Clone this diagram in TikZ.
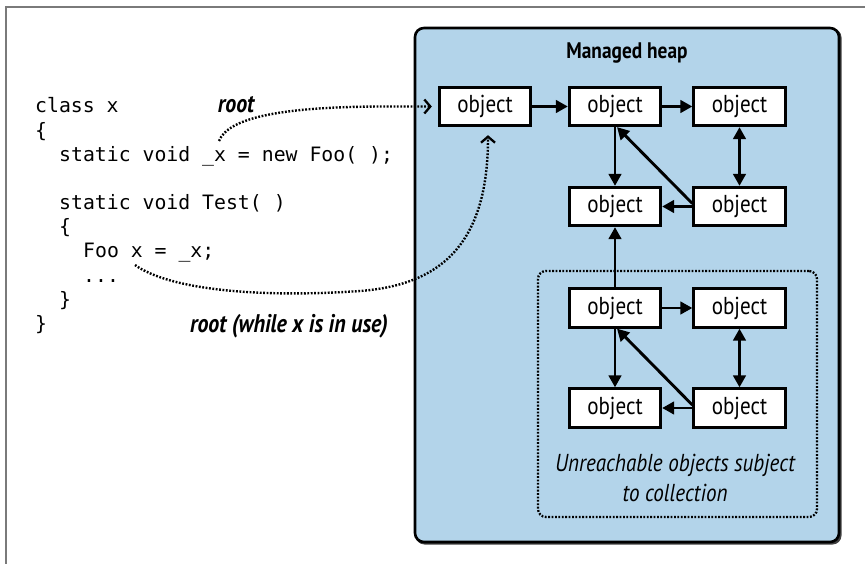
\documentclass[tikz,border=0pt]{standalone}
\usepackage{fontspec}
\setmainfont{PT Sans}[FakeStretch=0.86]
\setmonofont{DejaVu Sans Mono}
\usetikzlibrary{arrows.meta}
\definecolor{heapblue}{HTML}{B3D4EA}
\definecolor{framegray}{HTML}{7A7A7A}
\begin{document}
\begin{tikzpicture}[x=1pt,y=-1pt,
  obj/.style={draw=black, line width=2.8pt, fill=white, minimum width=91.5pt, minimum height=38.5pt, inner sep=0pt, font=\fontsize{24.5}{28}\selectfont},
  code/.style={anchor=base west, inner sep=0pt, font=\ttfamily\fontsize{19.8}{24}\selectfont},
  lbl/.style={anchor=base, inner sep=0pt, font=\bfseries\itshape\fontsize{25.5}{28}\selectfont},
  link/.style={line width=2.9pt, -{Triangle[length=12pt,width=12.5pt]}},
  dlink/.style={line width=2.9pt, {Triangle[length=12pt,width=12.5pt]}-{Triangle[length=12pt,width=12.5pt]}},
  rootlink/.style={line width=2.4pt, dash pattern=on 1.8pt off 1.6pt, -{Straight Barb[length=6pt,width=14pt,line width=2.3pt]}},
  heapbox/.style={draw=black, line width=2.6pt, fill=heapblue, rounded corners=9pt, minimum width=424pt, minimum height=514pt, inner sep=0pt},
  groupbox/.style={draw=black, line width=2.3pt, dash pattern=on 1.8pt off 1.6pt, rounded corners=8pt, minimum width=279pt, minimum height=246pt, inner sep=0pt},
]
\useasboundingbox (0,0) rectangle (865,564);
% partial frame
\draw[framegray, line width=2pt] (5.5,564) -- (5.5,7.5) -- (865,7.5);

% heap
\fill[black!75, rounded corners=9pt] (415.5,28.5) rectangle (841.5,544.5);
\node[heapbox] (heap) at (627,285) {};
\node[inner sep=0pt, font=\bfseries\fontsize{22.5}{26}\selectfont] (title) at (627,53) {Managed heap};
\node[groupbox] (group) at (677.5,394) {};
\node[inner sep=0pt, align=center, font=\itshape\fontsize{24.5}{30}\selectfont] (gtext) at (675,478) {Unreachable objects subject\\to collection};

% objects
\node[obj] (o1) at (485,106.5) {object};
\node[obj] (o2) at (615,106.5) {object};
\node[obj] (o3) at (739.5,106.5) {object};
\node[obj] (o4) at (615,206.5) {object};
\node[obj] (o5) at (739.5,206.5) {object};
\node[obj] (o6) at (615,308) {object};
\node[obj] (o7) at (739.5,308) {object};
\node[obj] (o8) at (615,408) {object};
\node[obj] (o9) at (739.5,408) {object};

% links
\draw[link] (o1.east) -- (o2.west);
\draw[link] (o2.east) -- (o3.west);
\draw[link] (o2.south) -- (o4.north);
\draw[dlink] (o3.south) -- (o5.north);
\draw[link] (o5.west) -- (o4.east);
\draw[link] ([yshift=3pt]o5.west) -- ([xshift=2pt]o2.south);
\draw[link] (o6.north) -- (o4.south);
\draw[link] (o6.east) -- (o7.west);
\draw[link] (o6.south) -- (o8.north);
\draw[dlink] (o7.south) -- (o9.north);
\draw[link] (o9.west) -- (o8.east);
\draw[link] ([yshift=3pt]o9.west) -- ([xshift=2pt]o6.south);

% code
\node[code] (c1) at (35,113) {class x};
\node[code] (c2) at (35,137.5) {\{};
\node[code] (c3) at (59,162) {static void \_x = new Foo( );};
\node[code] (c4) at (59,210) {static void Test( )};
\node[code] (c5) at (59,234) {\{};
\node[code] (c6) at (83,258) {Foo x = \_x;};
\node[code] (c7) at (83,282) {...};
\node[code] (c8) at (59,306) {\}};
\node[code] (c9) at (35,330) {\}};

\node[lbl] (rootA) at (236,113) {root};
\node[lbl] (rootB) at (289,332) {root (while x is in use)};

% root links
\coordinate (xs) at (219,141);
\coordinate (xf) at (135,265);
\coordinate (tipA) at ([xshift=-6pt]o1.west);
\coordinate (tipB) at ([xshift=3pt,yshift=-8pt]o1.south);
\draw[rootlink] (xs) .. controls (228,118) and (280,107) .. (380,106.5) -- (tipA);
\draw[rootlink] (xf) .. controls (170,290) and (260,298) .. (360,291) .. controls (440,285) and (488,245) .. (tipB);
\end{tikzpicture}
\end{document}
